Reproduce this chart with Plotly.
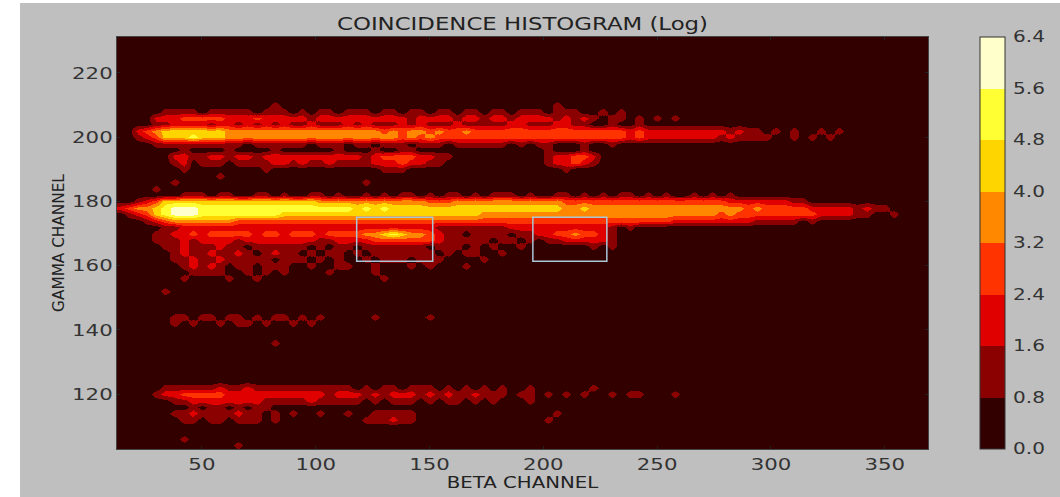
import plotly.graph_objects as go

# histogram bins: beta columns are 4 channels wide, gamma rows 2 channels tall
beta_channels = list(range(14, 374, 4))
gamma_channels = list(range(102, 234, 2))

# each digit is the colour band (0 darkest ... 7 lightest)
bands_by_gamma = {
    210: "0000000000 0000000100 0000000000 0000000000 0000000010",
    208: "0000011110 1111101110 1011011101 1011011011 0110111011 1001010000",
    206: "0000222333 3322232222 2122222222 2212222122 1221222212 1210110101 0100000000",
    204: "0000112222 1221212121 1211121211 1212111211 1112211122 1100100100",
    202: "0023455555 5544444444 4444444443 4344343343 3333333333 3333332322 2222222121 1010100101",
    200: "0012355565 5544444444 4444444444 4343433333 3333333333 3333332322 2222221211 1100101010",
    198: "0000111111 1111011111 1011101101 1101110111 1110101100 0100100000",
    196: "0000000100 0010000100 0000100010 0110000000 0000000100 0100000000",
    194: "0000002211 2212212222 2222222123 3332211000 0000000122 3320000000",
    192: "0000001201 1101111221 2112111122 2322110000 0000000122 3210000000",
    190: "0000000100 0000001000 0000000001 1100000000 0000000001 0000000000",
    188: "0000000000 0100000000 0000000000 0000000000",
    186: "0000001000 0000000000 0000000100 0000000000",
    184: "0000100000 0000000000 0000000000 0000000000",
    182: "0000000111 0110011010 0110100101 0110101101 0111010011 0101011010 1001010100",
    180: "0012355555 5555555555 5544444444 4444333444 4444444443 3333333333 3333333222 2222110000",
    178: "2344567776 6666666666 6666665656 5555555555 5555555554 4544444444 4444444443 4333332222 2121100",
    176: "0123567776 6666666655 5555555555 5555555555 4444444444 4444444444 4444443433 3333333222 21100100",
    174: "0001234444 4443333333 3333333333 3333333333 3333333333 3333333333 3222222222 1111101000",
    172: "0000011222 2222222222 2222222222 2222211111 1112222222 2222101000",
    170: "0000112232 3333323323 3323333445 6544321101 1110112233 4332100000",
    168: "0000111212 2221222222 2211222233 3333321111 1011010112 2222100000",
    166: "0000011211 1211011111 1010110111 1111011101 0100100000 0010100000",
    164: "0000001211 2112101211 0101101011 1111101011 0010000000",
    162: "0000001121 1211111011 1010100101 1101110000 1000000000",
    160: "0000000121 2101101110 0100110010 0010100010",
    158: "0000000011 1100101010 0001000010",
    156: "0000000100 0010010000 0000000001",
    152: "0000010000",
    144: "0000001101 1011010110 1010000010 0000100000",
    142: "0000001010 0101101001 0100000000",
    136: "0000000000 0000000100",
    122: "0000011111 1211211111 1111110101 1011101010 1010010000 0010000000",
    120: "0000122333 3322222222 2221222121 2221212112 1110110101 0100101100 0100000000",
    118: "0000001122 2222221111 1211111010 1110101101 0100010000",
    116: "0000000010 1101011000 0000000000 0000000000",
    114: "0000001121 1112110101 0010010011 1110000000 0000000010",
    112: "0000000110 1101110100 0000000111 2110000000 0000000100",
    106: "0000000100",
    104: "0000000000 0001000000",
}

band_values = [0.4, 1.2, 2.0, 2.8, 3.6, 4.4, 5.2, 6.0]
band_colors = ["#330000", "#8b0000", "#e00000", "#ff3300", "#ff8800", "#ffd500", "#ffff33", "#ffffcc"]
colorbar_ticks = [0.0, 0.8, 1.6, 2.4, 3.2, 4.0, 4.8, 5.6, 6.4]
colorbar_labels = ["0.0", "0.8", "1.6", "2.4", "3.2", "4.0", "4.8", "5.6", "6.4"]

x_ticks = [50, 100, 150, 200, 250, 300, 350]
y_ticks = [120, 140, 160, 180, 200, 220]

# gates drawn on the histogram: (beta low, beta high, gamma low, gamma high)
gates = [(118, 151.4, 161.4, 175.1), (195.4, 227.9, 161.4, 175.1)]


def row(g):
    digits = bands_by_gamma.get(g, "").replace(" ", "")
    digits = digits.ljust(len(beta_channels), "0")[: len(beta_channels)]
    return [band_values[int(d)] for d in digits]


z = [row(g) for g in gamma_channels]

scale = []
for i, c in enumerate(band_colors):
    scale.append([i / 8, c])
    scale.append([(i + 1) / 8, c])

W, H = 1060, 497
L, R, T, B = 117, 928, 37, 449
pw, ph = R - L, B - T

fig = go.Figure(
    go.Heatmap(
        x=beta_channels,
        y=gamma_channels,
        z=z,
        zmin=0,
        zmax=6.4,
        zsmooth="best",
        colorscale=scale,
        hoverinfo="skip",
        colorbar=dict(
            x=(980 - L) / pw,
            xanchor="left",
            xpad=0,
            ypad=0,
            y=0.5,
            len=1,
            thickness=25,
            outlinecolor="#333333",
            outlinewidth=1,
            tickmode="array",
            tickvals=colorbar_ticks,
            ticktext=colorbar_labels,
            ticks="outside",
            ticklen=5,
            tickcolor="rgba(0,0,0,0)",
            tickfont=dict(family="DejaVu Sans", size=15.5, color="#333333"),
        ),
    )
)

shapes = [
    dict(type="rect", xref="paper", yref="paper", layer="below",
         x0=(20 - L) / pw, x1=(W - L) / pw, y0=(B - H) / ph, y1=(B - 3) / ph,
         fillcolor="#bfbfbf", line=dict(width=0))
]
for x0, x1, y0, y1 in gates:
    shapes.append(dict(type="rect", xref="x", yref="y", x0=x0, x1=x1, y0=y0, y1=y1,
                       line=dict(color="#a9c6d6", width=1.5), fillcolor="rgba(0,0,0,0)"))

axis_font = dict(family="DejaVu Sans", size=16.5, color="#333333")
title_font = dict(family="DejaVu Sans", size=15.3, color="#222222")

fig.update_layout(
    width=W,
    height=H,
    autosize=False,
    margin=dict(l=L, r=W - R, t=T, b=H - B, pad=0, autoexpand=False),
    paper_bgcolor="#ffffff",
    plot_bgcolor="#330000",
    font=dict(family="DejaVu Sans"),
    shapes=shapes,
    title=dict(text="COINCIDENCE HISTOGRAM (Log)", x=(338 + 707) / 2 / W, xanchor="center",
               y=1 - 24 / H, yanchor="middle",
               font=dict(family="DejaVu Sans", size=17.7, color="#222222")),
    xaxis=dict(
        range=[12.7, 369], tickmode="array", tickvals=x_ticks, ticks="inside", ticklen=3,
        tickcolor="#222222", mirror="ticks", showline=True, linecolor="#444444", linewidth=1,
        showgrid=False, zeroline=False, tickfont=axis_font, automargin=False,
        title=dict(text="BETA CHANNEL", font=title_font, standoff=3),
    ),
    yaxis=dict(
        range=[102.9, 231.2], tickmode="array", tickvals=y_ticks, ticks="inside", ticklen=3,
        tickcolor="#222222", mirror="ticks", showline=True, linecolor="#444444", linewidth=1,
        showgrid=False, zeroline=False, tickfont=axis_font, automargin=False,
        title=dict(text="GAMMA CHANNEL", font=title_font, standoff=12),
    ),
)

# the reference's lettering is stretched sideways; widen the horizontal text to match
stretch_js = """
document.body.style.margin = '0';
function widen() {
  document.querySelectorAll('.gtitle, .xtitle, .xtick text, .ytick text, .colorbar text').forEach(function (t) {
    if (t.getAttribute('data-wide')) return;
    var n = t.getComputedTextLength();
    if (!n) return;
    t.setAttribute('textLength', (n * 1.29).toFixed(1));
    t.setAttribute('lengthAdjust', 'spacingAndGlyphs');
    t.setAttribute('data-wide', '1');
  });
}
widen();
setTimeout(widen, 50);
setTimeout(widen, 300);
"""

fig.write_html("out.html", post_script=stretch_js, config={"displayModeBar": False})
